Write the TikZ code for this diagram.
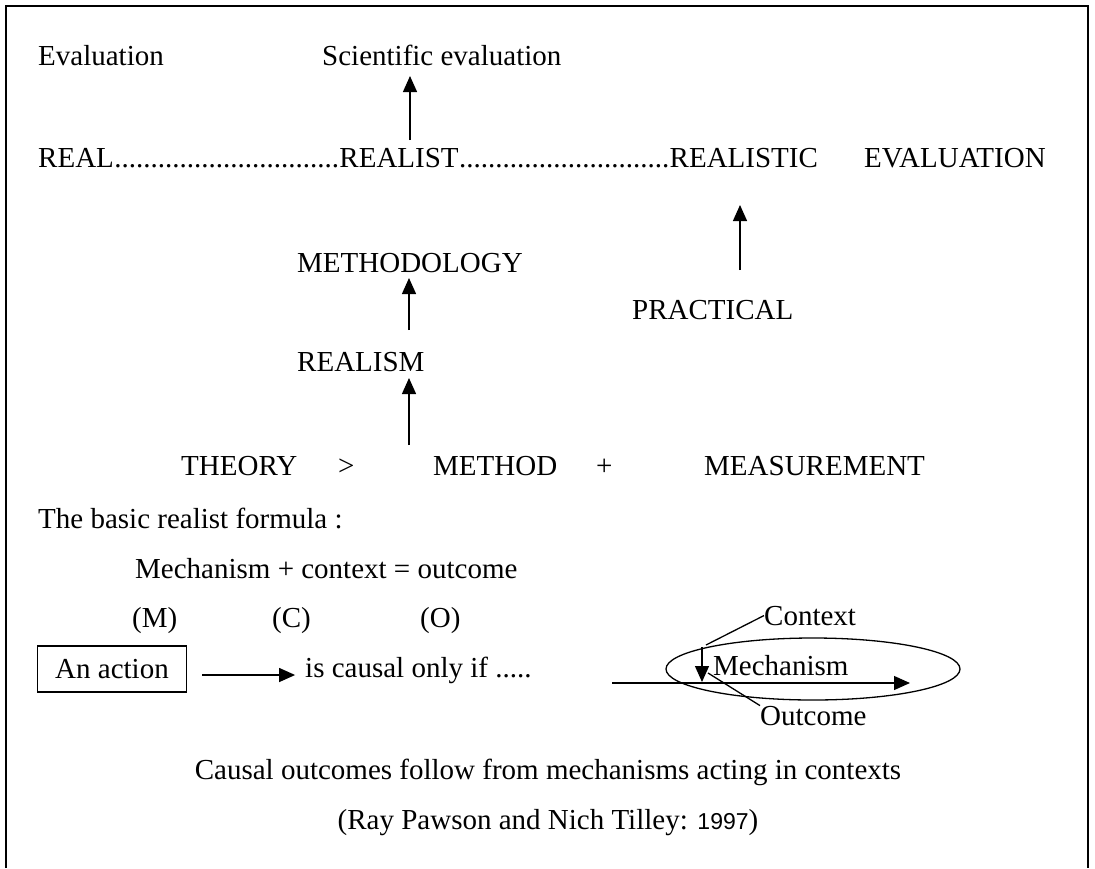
\documentclass[tikz,border=0pt]{standalone}
\usepackage{fontspec}
\setmainfont{Liberation Serif}
\newfontfamily\yearfont{Liberation Sans}
\usetikzlibrary{arrows.meta,shapes.geometric,positioning}
\tikzstyle{none}=[]
\tikzstyle{txt}=[inner sep=0pt,anchor=base west,font=\fontsize{29}{34}\selectfont]
\tikzstyle{mid}=[txt,anchor=base]
\tikzstyle{box}=[txt,anchor=center,draw=black,line width=1.2pt,
  minimum width=149pt,minimum height=46pt]
\tikzstyle{ell}=[ellipse,draw=black,line width=1.3pt,inner sep=0pt,
  minimum width=294pt,minimum height=62pt]
\tikzstyle{arr}=[-{Triangle[length=16pt,width=14pt]},line width=1.3pt]
\tikzstyle{ln}=[line width=1.3pt]

\begin{document}
\begin{tikzpicture}[x=1pt,y=-1pt]
            \useasboundingbox (0,0) rectangle (1095,868);
            \draw [line width=1.6pt] (6,868) -- (6,6) -- (1088,6) -- (1088,868);
            \node [style=txt] (0) at (38, 65) {Evaluation};
            \node [style=txt] (1) at (322, 65) {Scientific evaluation};
            \node [style=txt] (2) at (38, 167) {REAL};
            \node [style=txt] (3) at (2.base east) {...............................};
            \node [style=txt] (4) at (3.base east) {REALIST};
            \node [style=txt] (5) at (4.base east) {.............................};
            \node [style=txt] (6) at (5.base east) {REALISTIC};
            \node [style=txt] (7) at (864, 167) {EVALUATION};
            \node [style=txt] (8) at (297, 272) {METHODOLOGY};
            \node [style=txt] (9) at (632, 319) {PRACTICAL};
            \node [style=txt] (10) at (297, 371) {REALISM};
            \node [style=txt] (11) at (181, 475) {THEORY};
            \node [style=txt] (12) at (338, 475) {>};
            \node [style=txt] (13) at (433, 475) {METHOD};
            \node [style=txt] (14) at (596, 475) {+};
            \node [style=txt] (15) at (704, 475) {MEASUREMENT};
            \node [style=txt] (16) at (38, 528) {The basic realist formula :};
            \node [style=txt] (17) at (135, 578) {Mechanism + context = outcome};
            \node [style=txt] (18) at (132, 627) {(M)};
            \node [style=txt] (19) at (272, 627) {(C)};
            \node [style=txt] (20) at (420, 627) {(O)};
            \node [style=box] (21) at (112, 669) {An action};
            \node [style=txt] (22) at (305, 677) {is causal only if .....};
            \node [style=ell] (23) at (813, 669) {};
            \node [style=txt] (24) at (764, 625) {Context};
            \node [style=txt] (25) at (713, 675) {Mechanism};
            \node [style=txt] (26) at (760, 725) {Outcome};
            \node [style=mid] (27) at (548, 779) {Causal outcomes follow from mechanisms acting in contexts};
            \node [style=mid] (28) at (548, 829) {(Ray Pawson and Nich Tilley: {\yearfont\fontsize{23}{28}\selectfont 1997})};
            \coordinate (a0) at (410, 140);
            \coordinate (a1) at (410, 76);
            \coordinate (b0) at (740, 270);
            \coordinate (b1) at (740, 205);
            \coordinate (c0) at (409, 330);
            \coordinate (c1) at (409, 278);
            \coordinate (d0) at (409, 445);
            \coordinate (d1) at (409, 378);
            \coordinate (e0) at (612, 683);
            \coordinate (e1) at (910, 683);
            \coordinate (f0) at (702, 647);
            \coordinate (f1) at (702, 682);
            \coordinate (g0) at (706, 645);
            \coordinate (h0) at (708, 673);
            \draw [style=arr] (a0) to (a1);
            \draw [style=arr] (b0) to (b1);
            \draw [style=arr] (c0) to (c1);
            \draw [style=arr] (d0) to (d1);
            \draw [style=arr] (21.east) ++(15,6) coordinate (i0) to ++(93,0);
            \draw [style=arr] (e0) to (e1);
            \draw [style=arr] (f0) to (f1);
            \draw [style=ln] (g0) to (24.west);
            \draw [style=ln] (h0) to (26.north west);
    \end{tikzpicture}
\end{document}
